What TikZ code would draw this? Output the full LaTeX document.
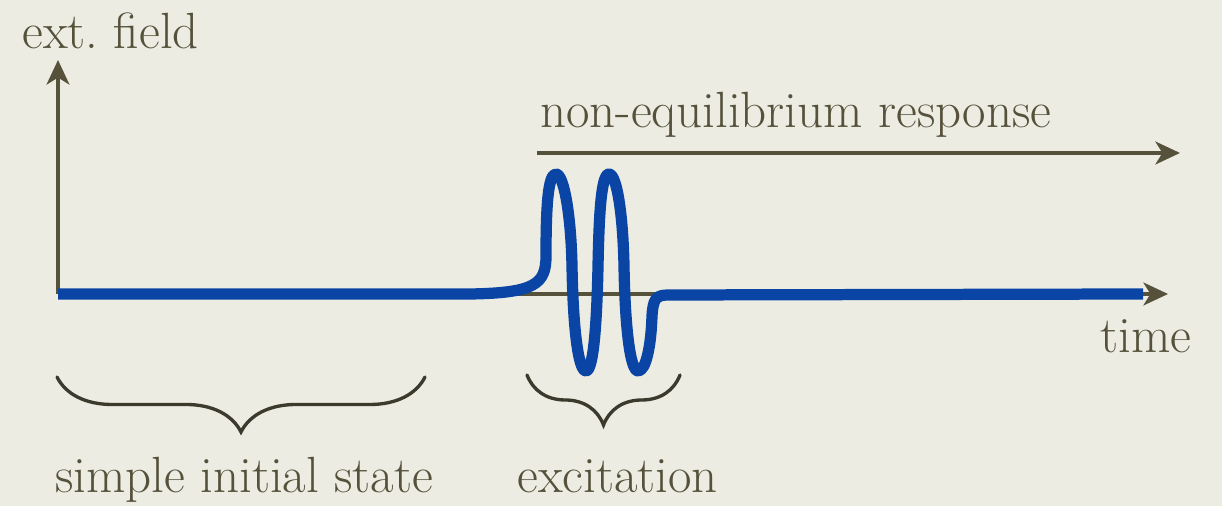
\documentclass[tikz,border=0pt]{standalone}
\usetikzlibrary{arrows.meta,decorations.pathreplacing}
\definecolor{paper}{HTML}{EDECE3}
\definecolor{olive}{HTML}{55513A}
\definecolor{bracecol}{HTML}{3B3A2C}
\definecolor{pulseblue}{HTML}{0A45A6}
\tikzset{
  axis/.style={olive,line width=2pt,-{Stealth[length=14pt,width=13pt,inset=4pt]}},
  lbl/.style={olive,font=\fontsize{29}{34}\selectfont,inner sep=0pt,anchor=base west},
  brc/.style={bracecol,line width=1.9pt,line cap=round,decorate,decoration={brace,mirror,amplitude=#1}},
}
\begin{document}
\begin{tikzpicture}[x=0.02cm,y=0.02cm]
    \fill[paper] (0,0) rectangle (1222,506);
    \coordinate (O) at (58,212);
    \coordinate (ytop) at (58,446);
    \coordinate (xend) at (1168,212);
    \coordinate (rstart) at (537,353);
    \coordinate (rend) at (1180,353);
    \coordinate (pend) at (1143,212);
    \draw[axis] (O) -- (ytop);
    \draw[axis] (O) -- (xend);
    \draw[axis] (rstart) -- (rend);
    % the pulse
    \draw[pulseblue,line width=6.4pt,line join=round] (O) -- (470,212)
        .. controls (535,213) and (546,222) .. (546,250)
        .. controls (546,300) and (548,332) .. (556,332)
        .. controls (564,332) and (571,290) .. (572,240)
        .. controls (573,180) and (578,135) .. (586,135)
        .. controls (594,135) and (597,190) .. (598,240)
        .. controls (599,290) and (601,332) .. (609,332)
        .. controls (617,332) and (623,290) .. (624,240)
        .. controls (625,180) and (630,135) .. (638,135)
        .. controls (646,135) and (651,160) .. (652,190)
        .. controls (653,207) and (656,211) .. (668,211) -- (pend);
    \node[lbl] (field) at (22,457) {ext.\ field};
    \node[lbl] (resp) at (540,378) {non-equilibrium response};
    \node[lbl] (time) at (1100,153) {time};
    \draw[brc=1.1cm] (57,129) -- (425,129);
    \draw[brc=1cm] (527,131) -- (680,131);
    \node[lbl] (init) at (55,13) {simple initial state};
    \node[lbl] (exc) at (517,13) {excitation};
\end{tikzpicture}
\end{document}
